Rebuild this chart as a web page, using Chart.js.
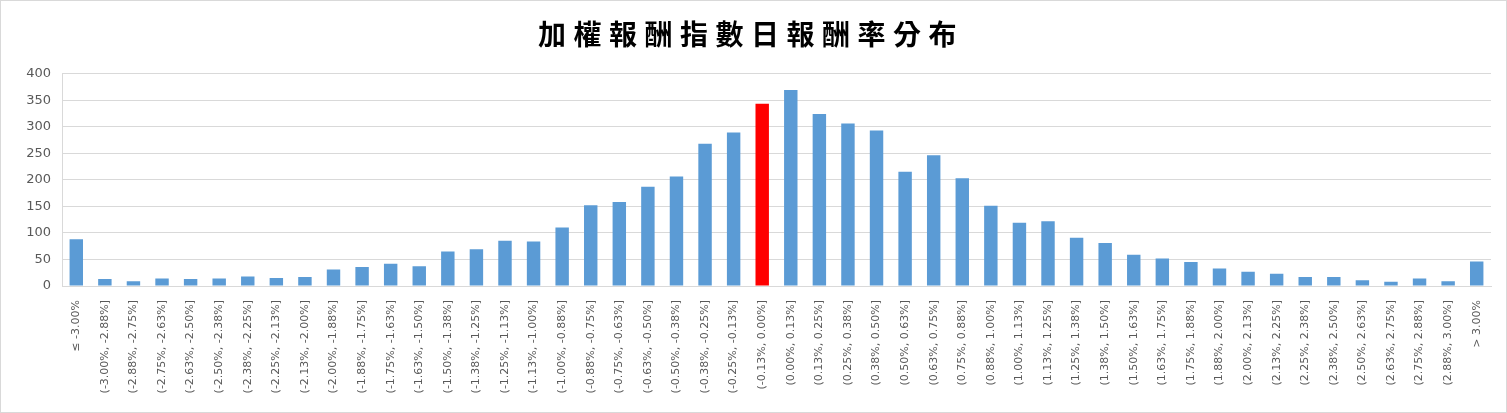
<!DOCTYPE html>
<html>
<head>
<meta charset="utf-8">
<script src="https://cdn.jsdelivr.net/npm/chart.js@4/dist/chart.umd.min.js"></script>
<style>
  html, body { margin: 0; padding: 0; background: #fff; }
  #wrap { width: 1507px; height: 413px; box-sizing: border-box; border: 1px solid #d9d9d9; }
</style>
</head>
<body>
<div id="wrap"><canvas id="chart" width="1505" height="411"></canvas></div>
<script>
const TITLE = "加權報酬指數日報酬率分布";

const categories = [
    "≤ -3.00%",
    "(-3.00%, -2.88%]", "(-2.88%, -2.75%]", "(-2.75%, -2.63%]", "(-2.63%, -2.50%]",
    "(-2.50%, -2.38%]", "(-2.38%, -2.25%]", "(-2.25%, -2.13%]", "(-2.13%, -2.00%]",
    "(-2.00%, -1.88%]", "(-1.88%, -1.75%]", "(-1.75%, -1.63%]", "(-1.63%, -1.50%]",
    "(-1.50%, -1.38%]", "(-1.38%, -1.25%]", "(-1.25%, -1.13%]", "(-1.13%, -1.00%]",
    "(-1.00%, -0.88%]", "(-0.88%, -0.75%]", "(-0.75%, -0.63%]", "(-0.63%, -0.50%]",
    "(-0.50%, -0.38%]", "(-0.38%, -0.25%]", "(-0.25%, -0.13%]", "(-0.13%, 0.00%]",
    "(0.00%, 0.13%]", "(0.13%, 0.25%]", "(0.25%, 0.38%]", "(0.38%, 0.50%]",
    "(0.50%, 0.63%]", "(0.63%, 0.75%]", "(0.75%, 0.88%]", "(0.88%, 1.00%]",
    "(1.00%, 1.13%]", "(1.13%, 1.25%]", "(1.25%, 1.38%]", "(1.38%, 1.50%]",
    "(1.50%, 1.63%]", "(1.63%, 1.75%]", "(1.75%, 1.88%]", "(1.88%, 2.00%]",
    "(2.00%, 2.13%]", "(2.13%, 2.25%]", "(2.25%, 2.38%]", "(2.38%, 2.50%]",
    "(2.50%, 2.63%]", "(2.63%, 2.75%]", "(2.75%, 2.88%]", "(2.88%, 3.00%]",
    "> 3.00%"
];

// number of trading days falling in each bin
const dayCounts = [
    88,
    13, 9, 14, 13,
    14, 18, 15, 17,
    31, 36, 42, 37,
    65, 69, 85, 84,
    110, 152, 158, 187,
    206, 268, 289, 343,
    369, 324, 306, 293,
    215, 246, 203, 151,
    119, 122, 91, 81,
    59, 52, 45, 33,
    27, 23, 17, 17,
    11, 8, 14, 9,
    46
];

const yTicks = [0, 50, 100, 150, 200, 250, 300, 350, 400];

const highlightBin = "(-0.13%, 0.00%]";
const highlightIndex = categories.indexOf(highlightBin);

const BAR_BLUE = "#5b9bd5";
const BAR_RED = "#ff0000";
const GRID_GRAY = "#d9d9d9";
const LABEL_GRAY = "#595959";

// spread the title characters out like the original
const titleSpacing = {
    id: 'titleSpacing',
    afterInit(chart) {
        const block = chart.titleBlock;
        if (!block) return;
        const origDraw = block.draw.bind(block);
        block.draw = function (area) {
            const ctx = chart.ctx;
            ctx.save();
            ctx.letterSpacing = '7.5px';
            origDraw(area);
            ctx.restore();
        };
    }
};

const ctx = document.getElementById('chart').getContext('2d');
const chart = new Chart(ctx, {
    type: 'bar',
    data: {
        labels: categories,
        datasets: [{
            label: '天數',
            data: dayCounts,
            backgroundColor: (c) => c.dataIndex === highlightIndex ? BAR_RED : BAR_BLUE,
            borderWidth: 0,
            barPercentage: 0.47,
            categoryPercentage: 1.0,
        }],
    },
    options: {
        responsive: false,
        animation: false,
        layout: {
            padding: { left: 10, right: 15, top: 0, bottom: 0 },
        },
        plugins: {
            legend: { display: false },
            tooltip: { enabled: false },
            title: {
                display: true,
                text: TITLE,
                color: '#000000',
                font: { family: "'Noto Sans CJK TC', 'Noto Sans CJK SC', sans-serif", size: 28, weight: 'bold', lineHeight: 1.2 },
                padding: { top: 17, bottom: 22 },
            },
        },
        scales: {
            x: {
                grid: { display: false },
                border: { display: true, color: GRID_GRAY, width: 1 },
                ticks: {
                    autoSkip: false,
                    maxRotation: 90,
                    minRotation: 90,
                    padding: 6,
                    color: LABEL_GRAY,
                    font: { family: "'DejaVu Sans', sans-serif", size: 11 },
                },
                afterFit(scale) { scale.height = 126; },
            },
            y: {
                min: 0,
                max: 400,
                afterBuildTicks(scale) { scale.ticks = yTicks.map(v => ({ value: v })); },
                grid: { color: GRID_GRAY, lineWidth: 1, drawTicks: false },
                border: { display: true, color: GRID_GRAY, width: 1 },
                ticks: {
                    padding: 11,
                    color: LABEL_GRAY,
                    font: { family: "'DejaVu Sans', sans-serif", size: 13 },
                },
                afterFit(scale) { scale.width = 51; },
            },
        },
    },
    plugins: [titleSpacing],
});
chart.draw();
</script>
</body>
</html>
